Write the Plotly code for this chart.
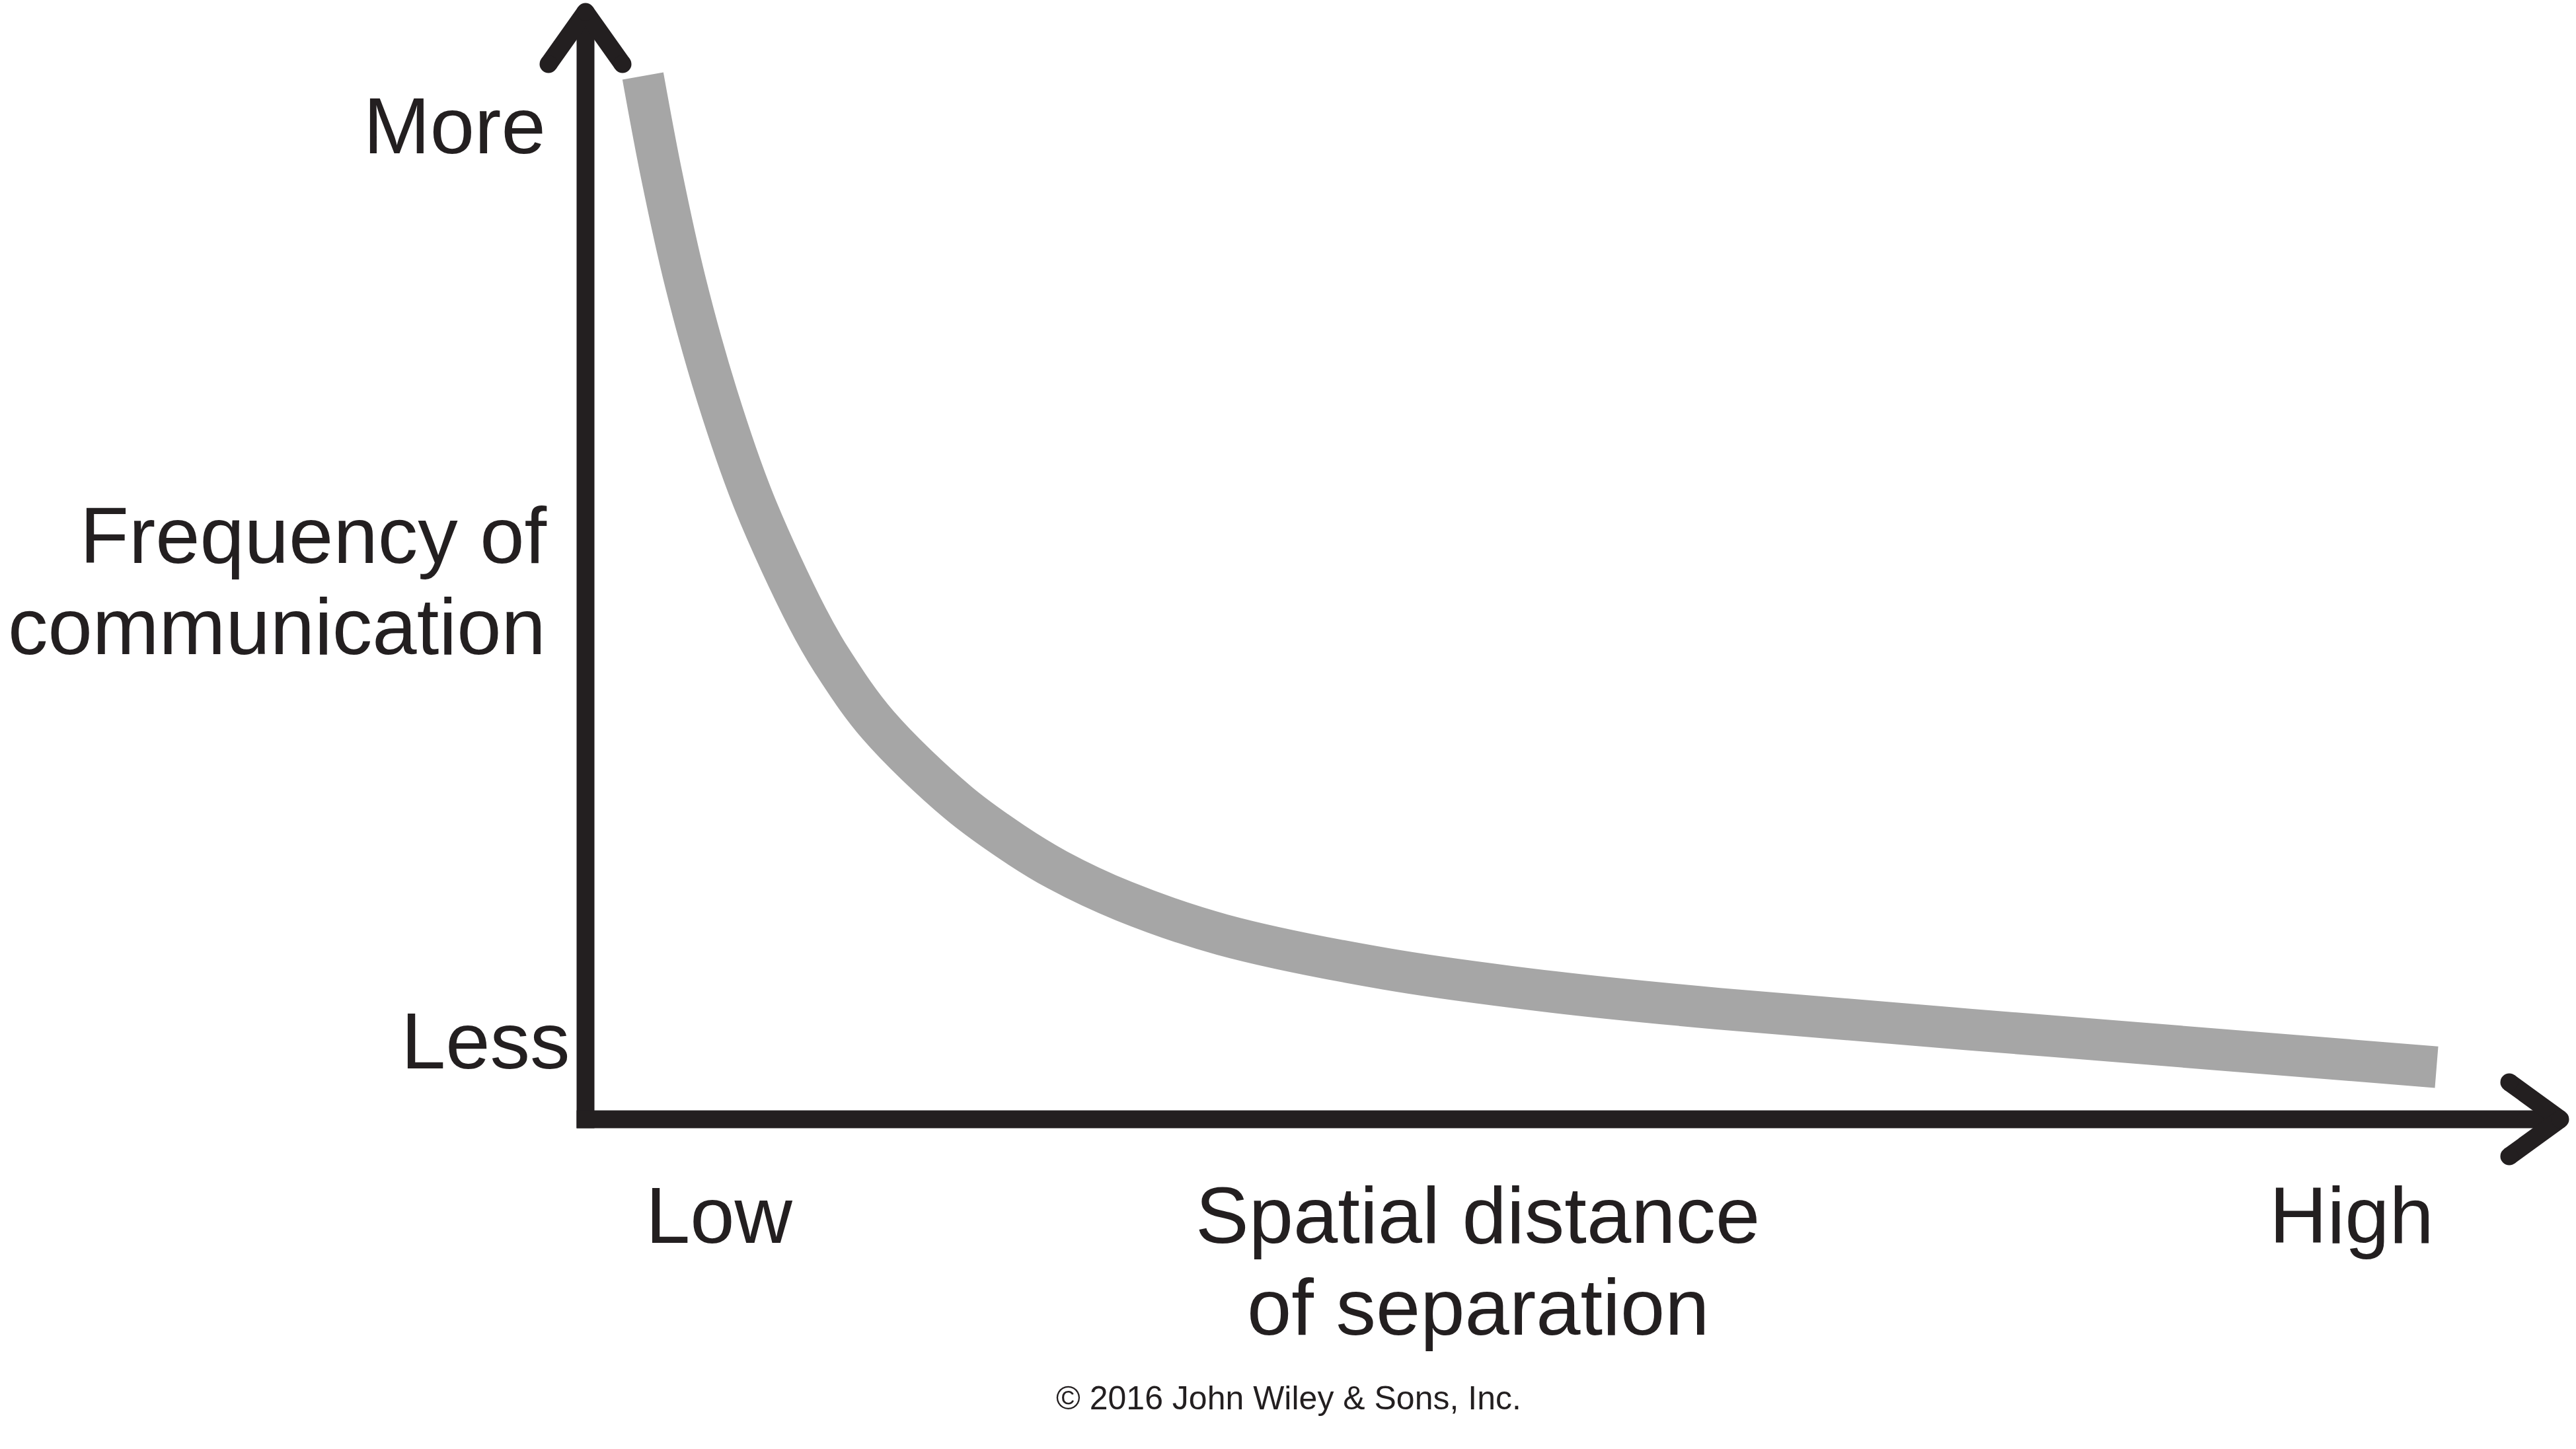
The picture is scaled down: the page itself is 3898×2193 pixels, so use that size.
import plotly.graph_objects as go

# ---------------- data ----------------
# spatial distance of separation (0 = axis origin, 100 = end of the curve)
distance = [3.1, 4.1, 5.4, 7.1, 9.1, 12.0, 13.4, 15.8, 20.1, 23.1, 25.5,
            29.1, 34.4, 43.3, 52.3, 61.2, 79.0, 100.0]
# frequency of communication (0 = axis origin, 100 = start of the curve)
frequency = [100.0, 90.6, 80.2, 69.4, 59.2, 48.0, 43.7, 37.8, 30.4, 26.5,
             23.9, 20.9, 17.7, 14.4, 12.2, 10.6, 8.0, 5.0]

y_tick_labels = ["More", "Less"]
y_title_lines = ["Frequency of", "communication"]
x_tick_labels = ["Low", "High"]
x_title_lines = ["Spatial distance", "of separation"]
credit = "\u00a9 2016 John Wiley & Sons, Inc."

# ---------------- geometry ----------------
W, H = 3898, 2193
X0_PIX, X100_PIX = 886, 3687      # pixel column of x=0 and x=100
Y0_PIX, Y100_PIX = 1694, 115      # pixel row of y=0 and y=100
kx = (X100_PIX - X0_PIX) / 100.0
ky = (Y0_PIX - Y100_PIX) / 100.0
x_range = [(0 - X0_PIX) / kx, (W - X0_PIX) / kx]
y_range = [(Y0_PIX - H) / ky, Y0_PIX / ky]

INK = "#231F20"
CURVE = "#A6A6A6"
FONT = "Liberation Sans"
AX_W = 27


def fx(p):
    return p / W


def fy(p):
    return 1 - p / H


fig = go.Figure()
fig.add_trace(go.Scatter(
    x=distance, y=frequency, mode="lines",
    line=dict(color=CURVE, width=63, shape="spline", smoothing=1.0),
    hoverinfo="skip", showlegend=False,
))

shapes = []


def seg(xa, ya, xb, yb):
    shapes.append(dict(type="line", xref="paper", yref="paper",
                       x0=fx(xa), y0=fy(ya), x1=fx(xb), y1=fy(yb),
                       line=dict(color=INK, width=AX_W)))


def dot(cx, cy, r=AX_W / 2):
    shapes.append(dict(type="circle", xref="paper", yref="paper",
                       x0=fx(cx - r), x1=fx(cx + r), y0=fy(cy + r), y1=fy(cy - r),
                       fillcolor=INK, line=dict(width=0)))


# vertical axis with open chevron head
seg(X0_PIX, Y0_PIX + AX_W / 2, X0_PIX, 18)
seg(X0_PIX, 18, 830, 97)
seg(X0_PIX, 18, 942, 97)
dot(X0_PIX, 18)
dot(830, 97)
dot(942, 97)
# horizontal axis with open chevron head
seg(X0_PIX - AX_W / 2, Y0_PIX, 3874, Y0_PIX)
seg(3874, Y0_PIX, 3797, 1638)
seg(3874, Y0_PIX, 3797, 1750)
dot(3874, Y0_PIX)
dot(3797, 1638)
dot(3797, 1750)

annotations = []


def label(text, xp, yp, xanchor, size=121):
    annotations.append(dict(text=text, xref="paper", yref="paper",
                            x=fx(xp), y=fy(yp), xanchor=xanchor, yanchor="middle",
                            showarrow=False,
                            font=dict(family=FONT, size=size, color=INK)))


label(y_tick_labels[0], 828, 190, "right")
label(y_title_lines[0], 830, 810, "right")
label(y_title_lines[1], 828, 948, "right")
label(y_tick_labels[1], 865, 1575, "right")
label(x_tick_labels[0], 1088, 1839, "center")
label(x_title_lines[0], 2236, 1839, "center")
label(x_title_lines[1], 2237, 1978, "center")
label(x_tick_labels[1], 3558, 1839, "center")
label(credit, 1950, 2116, "center", size=50)

fig.update_layout(
    width=W, height=H,
    margin=dict(l=0, r=0, t=0, b=0, pad=0),
    paper_bgcolor="white", plot_bgcolor="white",
    xaxis=dict(range=x_range, visible=False, fixedrange=True),
    yaxis=dict(range=y_range, visible=False, fixedrange=True),
    shapes=shapes, annotations=annotations, showlegend=False,
)

fig.write_html(
    "out.html",
    config={"displayModeBar": False},
    post_script="document.body.style.margin='0px';document.body.style.overflow='hidden';",
)
